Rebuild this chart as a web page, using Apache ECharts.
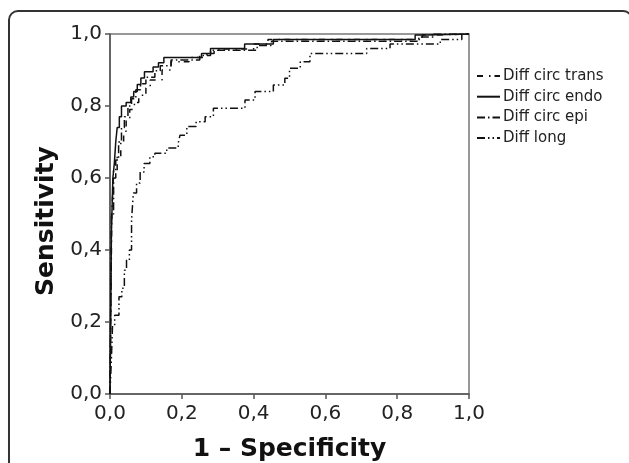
<!DOCTYPE html>
<html>
<head>
<meta charset="utf-8">
<script src="https://cdn.jsdelivr.net/npm/echarts@6/dist/echarts.min.js"></script>
<style>
html, body { margin: 0; padding: 0; background: #fff; }
#roc_chart { width: 629px; height: 463px; }
</style>
</head>
<body>
<div id="roc_chart"></div>
<script>
// legend names
var seriesNames = ["Diff circ trans", "Diff circ endo", "Diff circ epi", "Diff long"];

// ROC points: [1 - specificity where level starts, sensitivity]
var transPoints = [[0,0],[0.005,0.5],[0.01,0.62],[0.02,0.66],[0.03,0.7],[0.038,0.73],[0.045,0.76],[0.055,0.79],[0.068,0.81],[0.08,0.83],[0.1,0.85],[0.112,0.872],[0.145,0.9],[0.17,0.923],[0.22,0.935],[0.27,0.946],[0.29,0.958],[0.4,0.972],[0.44,0.985],[0.87,0.997],[0.9,1],[1,1]];
var endoPoints = [[0,0],[0.004,0.45],[0.008,0.6],[0.012,0.64],[0.016,0.7],[0.02,0.74],[0.026,0.77],[0.032,0.8],[0.045,0.81],[0.058,0.825],[0.066,0.84],[0.076,0.86],[0.086,0.878],[0.096,0.895],[0.12,0.908],[0.135,0.92],[0.15,0.935],[0.255,0.946],[0.28,0.96],[0.375,0.972],[0.455,0.985],[0.85,0.997],[0.88,1],[1,1]];
var epiPoints = [[0,0],[0.004,0.5],[0.01,0.6],[0.016,0.65],[0.024,0.7],[0.032,0.74],[0.04,0.77],[0.05,0.8],[0.06,0.82],[0.072,0.845],[0.085,0.862],[0.1,0.88],[0.125,0.898],[0.14,0.912],[0.17,0.928],[0.25,0.94],[0.28,0.955],[0.41,0.968],[0.45,0.98],[0.86,0.992],[0.9,1],[1,1]];
var longPoints = [[0,0],[0.004,0.1],[0.007,0.19],[0.013,0.219],[0.025,0.27],[0.033,0.294],[0.04,0.344],[0.046,0.372],[0.054,0.4],[0.06,0.483],[0.065,0.558],[0.074,0.586],[0.084,0.617],[0.095,0.64],[0.111,0.659],[0.125,0.669],[0.158,0.683],[0.19,0.697],[0.195,0.719],[0.214,0.743],[0.24,0.756],[0.265,0.77],[0.288,0.794],[0.376,0.817],[0.404,0.84],[0.455,0.858],[0.487,0.877],[0.5,0.905],[0.53,0.923],[0.557,0.946],[0.715,0.96],[0.78,0.972],[0.92,0.985],[0.98,1],[1,1]];

var tickValues = [0, 0.2, 0.4, 0.6, 0.8, 1.0];

var allPoints = [transPoints, endoPoints, epiPoints, longPoints];
var dashTypes = [[6, 6, 1.5, 4], "solid", [8, 3, 1.5, 3], [8, 3, 1.5, 3, 1.5, 3]];

function commaLabel(v) {
    return v.toFixed(1).replace('.', ',');
}

var myChart = echarts.init(document.getElementById('roc_chart'), null, { renderer: 'canvas' });

var series = [];
for (var i = 0; i < seriesNames.length; i++) {
    series.push({
        name: seriesNames[i],
        type: 'line',
        step: 'end',
        data: allPoints[i],
        symbol: 'none',
        color: '#111',
        animation: false,
        lineStyle: { color: '#111', width: 1.5, type: dashTypes[i] }
    });
}

var axisCommon = {
    type: 'value',
    min: tickValues[0],
    max: tickValues[tickValues.length - 1],
    interval: 0.2,
    nameLocation: 'middle',
    nameTextStyle: { fontFamily: 'DejaVu Sans', fontWeight: 'bold', fontSize: 25, color: '#111' },
    axisLine: { show: true, lineStyle: { color: '#555', width: 1.5 } },
    axisTick: { show: true, length: 5, lineStyle: { color: '#555', width: 1.5 } },
    axisLabel: { formatter: commaLabel, fontFamily: 'DejaVu Sans', fontSize: 20, color: '#222' },
    splitLine: { show: false }
};

var option = {
    backgroundColor: '#fff',
    grid: {
        left: 110, right: 160, top: 34, bottom: 69,
        containLabel: false, outerBoundsMode: 'none',
        show: true, borderColor: '#777', borderWidth: 1.5
    },
    legend: {
        orient: 'vertical',
        left: 476,
        top: 68,
        padding: 0,
        itemWidth: 23,
        itemHeight: 14,
        itemGap: 4.7,
        data: seriesNames,
        itemStyle: { opacity: 0 },
        textStyle: { fontFamily: 'DejaVu Sans', fontSize: 15, lineHeight: 16, color: '#222', padding: [0, 0, 0, -2] }
    },
    xAxis: echarts.util.merge({
        name: '1 \u2013 Specificity',
        nameGap: 43,
        axisLabel: { margin: 10 }
    }, axisCommon),
    yAxis: echarts.util.merge({
        name: 'Sensitivity',
        nameGap: 51,
        nameTextStyle: { padding: [0, 0, 0, -14] },
        axisLabel: { margin: 8, padding: [6, 0, 0, 0] }
    }, axisCommon),
    graphic: [{
        type: 'rect',
        shape: { x: 9, y: 11, width: 623, height: 480, r: 9 },
        style: { fill: null, stroke: '#333', lineWidth: 2 },
        silent: true
    }],
    series: series
};

myChart.setOption(option);
</script>
</body>
</html>
